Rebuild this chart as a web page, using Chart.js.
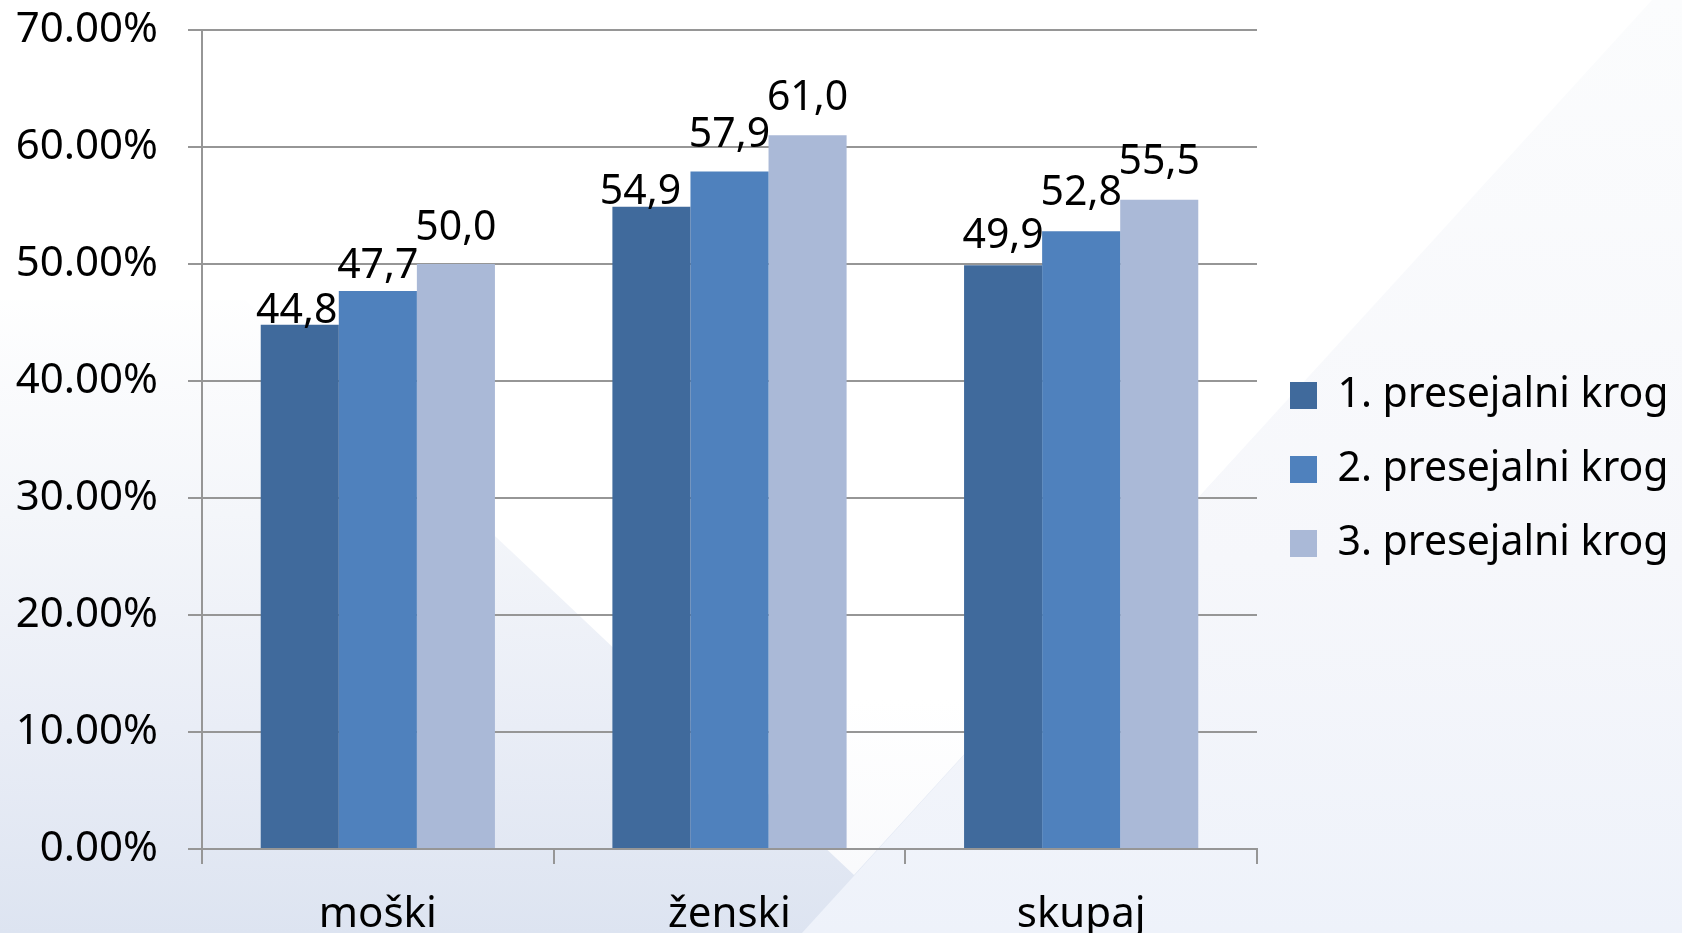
<!DOCTYPE html>
<html>
<head>
<meta charset="utf-8">
<script src="https://cdn.jsdelivr.net/npm/chart.js@4.4.1/dist/chart.umd.min.js"></script>
<style>
  html, body { margin: 0; padding: 0; }
  body { width: 1682px; height: 933px; overflow: hidden; position: relative;
         background: linear-gradient(180deg, #ffffff 0%, #ffffff 30%, #f4f6fa 55%, #e9edf6 78%, #dde4f1 100%); }
  .bg { position: absolute; left: 0; top: 0; width: 1682px; height: 933px; }
  #bgWhite { background: linear-gradient(180deg, #ffffff 0%, #ffffff 75%, #f7f8fb 100%);
             clip-path: polygon(0px 0px, 1652px 0px, 854px 875px, 245px 300px, 0px 300px); }
  #bgRight { background: linear-gradient(180deg, #fbfcfd 0%, #f6f7fb 60%, #eef2fa 100%);
             clip-path: polygon(1652px 0px, 1682px 0px, 1682px 933px, 802px 933px); }
  #wrap { position: absolute; left: 0; top: 0; width: 1682px; height: 933px; }
</style>
</head>
<body>
<div class="bg" id="bgWhite"></div>
<div class="bg" id="bgRight"></div>
<div id="wrap"><canvas id="barChart"></canvas></div>
<script>
    // podatki
    var categories = ['moški', 'ženski', 'skupaj'];
    var seriesNames = ['1. presejalni krog', '2. presejalni krog', '3. presejalni krog'];
    var round1 = [44.8, 54.9, 49.9];
    var round2 = [47.7, 57.9, 52.8];
    var round3 = [50.0, 61.0, 55.5];
    var yMax = 70;
    var yStep = 10;

    var colors = ['#406a9c', '#4f81bd', '#aab9d7'];
    var fontFamily = "'Noto Sans', sans-serif";
    var gridColor = '#969696';

    // premik oznak (px) - v originalu so rocno razmaknjene
    var labelLift = [[2, 3, 17], [13, 25, 26], [24, 25, 26]];
    var labelShift = [[-3, -11, 0], [0, 0, 0], [0, 0, 0]];

    // oznake vrednosti nad stolpci
    var valueLabels = {
        id: 'valueLabels',
        afterDatasetsDraw: function(chart) {
            var ctx = chart.ctx;
            ctx.save();
            ctx.font = '41px ' + fontFamily;
            ctx.fillStyle = '#000';
            ctx.textAlign = 'center';
            ctx.textBaseline = 'alphabetic';
            chart.data.datasets.forEach(function(ds, i) {
                chart.getDatasetMeta(i).data.forEach(function(bar, j) {
                    var txt = ds.data[j].toFixed(1).replace('.', ',');
                    ctx.fillText(txt, bar.x + labelShift[i][j], bar.y - labelLift[i][j]);
                });
            });
            ctx.restore();
        }
    };

    var ctx = document.getElementById('barChart').getContext('2d');
    var barChart = new Chart(ctx, {
        type: 'bar',
        data: {
            labels: categories,
            datasets: [
                { label: seriesNames[0], data: round1, backgroundColor: colors[0] },
                { label: seriesNames[1], data: round2, backgroundColor: colors[1] },
                { label: seriesNames[2], data: round3, backgroundColor: colors[2] }
            ]
        },
        options: {
            responsive: true,
            maintainAspectRatio: false,
            animation: false,
            categoryPercentage: 0.666,
            barPercentage: 1.0,
            layout: { padding: { top: 6, right: 6, left: 0, bottom: 0 } },
            plugins: {
                legend: {
                    position: 'right',
                    labels: {
                        font: { family: fontFamily, size: 41 },
                        color: '#000',
                        boxWidth: 27,
                        boxHeight: 27,
                        padding: 33
                    }
                },
                tooltip: { enabled: false }
            },
            scales: {
                x: {
                    grid: { drawOnChartArea: false, offset: true, tickLength: 15, color: gridColor, lineWidth: 2 },
                    border: { color: gridColor, width: 2 },
                    ticks: { font: { family: fontFamily, size: 42 }, color: '#000', padding: 26 },
                    afterFit: function(scale) { scale.height = 84; }
                },
                y: {
                    min: 0,
                    max: yMax,
                    ticks: {
                        stepSize: yStep,
                        font: { family: fontFamily, size: 42 },
                        color: '#000',
                        padding: 30,
                        callback: function(v) { return v.toFixed(2) + '%'; }
                    },
                    grid: { color: gridColor, lineWidth: 2, tickLength: 14 },
                    border: { color: gridColor, width: 2 },
                    afterFit: function(scale) {
                        scale.width = 202;
                        scale.paddingTop = 30;
                        scale.paddingBottom = 0;
                    }
                }
            }
        },
        plugins: [valueLabels]
    });
</script>
</body>
</html>
